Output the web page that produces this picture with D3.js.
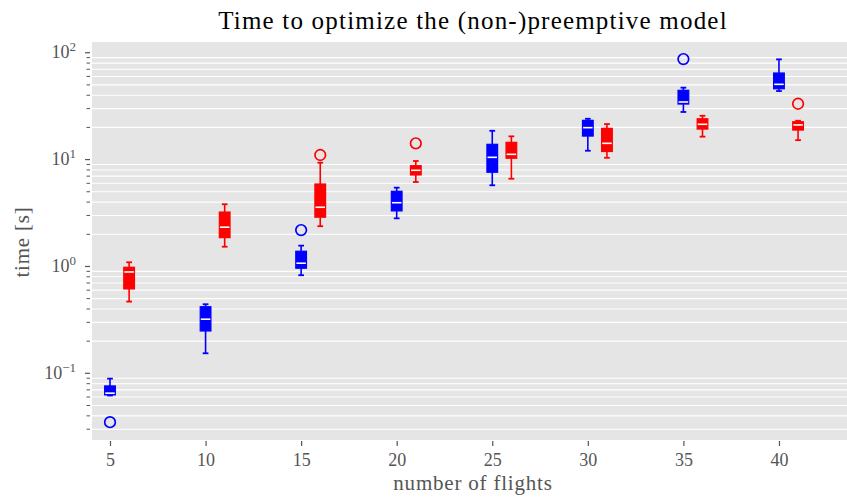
<!DOCTYPE html>
<html>
<head>
<meta charset="utf-8">
<script src="https://cdn.jsdelivr.net/npm/d3@7"></script>
<style>
  body { margin: 0; background: #fff; }
  svg { display: block; }
</style>
</head>
<body>
<svg id="chart" width="847" height="497"></svg>
<script>
// ---- data ----
const blueX = [5, 10, 15, 20, 25, 30, 35, 40];
const blueLow  = [0.062, 0.154, 0.828, 2.82, 5.75, 12.1, 27.9, 43.8];
const blueQ1   = [0.0628, 0.249, 0.962, 3.31, 7.61, 16.6, 33.1, 46.0];
const blueMed  = [0.0652, 0.321, 1.072, 3.95, 10.5, 19.9, 34.6, 50.6];
const blueQ3   = [0.0762, 0.420, 1.388, 5.05, 13.9, 23.3, 44.5, 64.6];
const blueHigh = [0.0892, 0.443, 1.566, 5.46, 18.6, 24.1, 47.1, 86.7];
const blueOut  = [[0.0349], [], [2.19], [], [], [], [87.3], []];

const redX = [6, 11, 16, 21, 26, 31, 36, 41];
const redLow  = [0.469, 1.53, 2.38, 6.17, 6.62, 10.4, 16.4, 15.2];
const redQ1   = [0.616, 1.86, 2.89, 7.18, 10.3, 11.9, 19.3, 18.9];
const redMed  = [0.888, 2.33, 3.58, 7.94, 11.2, 14.2, 21.4, 21.1];
const redQ3   = [0.983, 3.23, 5.91, 8.77, 14.5, 19.6, 24.1, 22.6];
const redHigh = [1.094, 3.82, 9.35, 9.70, 16.5, 21.5, 25.7, 23.1];
const redOut  = [[], [], [11.04], [14.2], [], [], [], [33.3]];

const xTicks = [5, 10, 15, 20, 25, 30, 35, 40];
const yMajor = [-1, 0, 1, 2];
const title = "Time to optimize the (non-)preemptive model";
const xLabel = "number of flights";
const yLabel = "time [s]";

// ---- layout ----
const L = 92, R = 847, T = 42, B = 440;
const svg = d3.select("#chart");
const x = d3.scaleLinear().domain([4.058, 43.56]).range([L, R]);
const y = d3.scaleLog().domain([0.02377, 126]).range([B, T]);
const serif = "'Liberation Serif', 'Times New Roman', serif";
const grey = "#555555";

svg.append("rect").attr("x", L).attr("y", T).attr("width", R - L).attr("height", B - T)
  .attr("fill", "#E5E5E5");

// minor gridlines + ticks
const minor = [];
for (let e = -2; e <= 2; e++) for (let k = 2; k <= 9; k++) {
  const v = k * Math.pow(10, e);
  if (v >= y.domain()[0] && v <= y.domain()[1]) minor.push(v);
}
svg.append("g").selectAll("line").data(minor).join("line")
  .attr("x1", L).attr("x2", R).attr("y1", d => y(d)).attr("y2", d => y(d))
  .attr("stroke", "#fff").attr("stroke-width", 1.1);
svg.append("g").selectAll("line").data(minor).join("line")
  .attr("x1", L - 2).attr("x2", L - 5.5).attr("y1", d => y(d)).attr("y2", d => y(d))
  .attr("stroke", grey).attr("stroke-width", 1);
svg.append("g").selectAll("line").data(yMajor).join("line")
  .attr("x1", L - 2).attr("x2", L - 7).attr("y1", d => y(Math.pow(10, d))).attr("y2", d => y(Math.pow(10, d)))
  .attr("stroke", grey).attr("stroke-width", 1.2);

// y tick labels
const yl = svg.append("g").selectAll("text").data(yMajor).join("text")
  .attr("x", 76).attr("y", d => y(Math.pow(10, d)) + 5.5)
  .attr("text-anchor", "end").attr("fill", grey)
  .style("font-family", serif).style("font-size", "18px");
yl.append("tspan").text("10");
yl.append("tspan").attr("dy", -7).style("font-size", "13px")
  .text(d => d < 0 ? "\u2212" + (-d) : String(d));

// x ticks
const xAxis = d3.axisBottom(x).tickValues(xTicks).tickSize(5).tickPadding(7).tickFormat(d3.format("d"));
const gx = svg.append("g").attr("transform", `translate(0,${B + 1})`).call(xAxis);
gx.select(".domain").remove();
gx.selectAll(".tick line").attr("stroke", grey).attr("stroke-width", 1.2);
gx.selectAll(".tick text").attr("fill", grey).style("font-family", serif).style("font-size", "18px");

// boxes
function drawBoxes(xs, lo, q1, med, q3, hi, outs, color) {
  const g = svg.append("g");
  const bw = 0.56, cw = 0.3;
  const idx = d3.range(xs.length);
  g.selectAll(".wl").data(idx).join("line")
    .attr("x1", i => x(xs[i])).attr("x2", i => x(xs[i]))
    .attr("y1", i => y(lo[i])).attr("y2", i => y(q1[i]))
    .attr("stroke", color).attr("stroke-width", 1.6);
  g.selectAll(".wh").data(idx).join("line")
    .attr("x1", i => x(xs[i])).attr("x2", i => x(xs[i]))
    .attr("y1", i => y(q3[i])).attr("y2", i => y(hi[i]))
    .attr("stroke", color).attr("stroke-width", 1.6);
  [lo, hi].forEach(arr => {
    g.append("g").selectAll("line").data(idx).join("line")
      .attr("x1", i => x(xs[i] - cw / 2)).attr("x2", i => x(xs[i] + cw / 2))
      .attr("y1", i => y(arr[i])).attr("y2", i => y(arr[i]))
      .attr("stroke", color).attr("stroke-width", 1.8);
  });
  g.append("g").selectAll("rect").data(idx).join("rect")
    .attr("x", i => x(xs[i] - bw / 2)).attr("width", i => x(xs[i] + bw / 2) - x(xs[i] - bw / 2))
    .attr("y", i => y(q3[i])).attr("height", i => Math.max(1, y(q1[i]) - y(q3[i])))
    .attr("fill", color).attr("stroke", color).attr("stroke-width", 1.2);
  g.append("g").selectAll("line").data(idx).join("line")
    .attr("x1", i => x(xs[i] - bw / 2) + 0.6).attr("x2", i => x(xs[i] + bw / 2) - 0.6)
    .attr("y1", i => y(med[i])).attr("y2", i => y(med[i]))
    .attr("stroke", "#fff").attr("stroke-width", 1.6);
  const pts = [];
  idx.forEach(i => outs[i].forEach(v => pts.push([xs[i], v])));
  g.append("g").selectAll("circle").data(pts).join("circle")
    .attr("cx", d => x(d[0])).attr("cy", d => y(d[1])).attr("r", 5.3)
    .attr("fill", "none").attr("stroke", color).attr("stroke-width", 1.7);
}
drawBoxes(blueX, blueLow, blueQ1, blueMed, blueQ3, blueHigh, blueOut, "#0000FF");
drawBoxes(redX, redLow, redQ1, redMed, redQ3, redHigh, redOut, "#FF0000");

// labels
svg.append("text").attr("x", 473).attr("y", 29).attr("text-anchor", "middle")
  .attr("fill", "#000").style("font-family", serif).style("font-size", "25px")
  .style("letter-spacing", "1.2px").text(title);
svg.append("text").attr("x", 473).attr("y", 490).attr("text-anchor", "middle")
  .attr("fill", grey).style("font-family", serif).style("font-size", "21px")
  .style("letter-spacing", "0.8px").text(xLabel);
svg.append("text").attr("transform", `translate(29,242) rotate(-90)`).attr("text-anchor", "middle")
  .attr("fill", grey).style("font-family", serif).style("font-size", "21px")
  .style("letter-spacing", "0.8px").text(yLabel);
</script>
</body>
</html>
